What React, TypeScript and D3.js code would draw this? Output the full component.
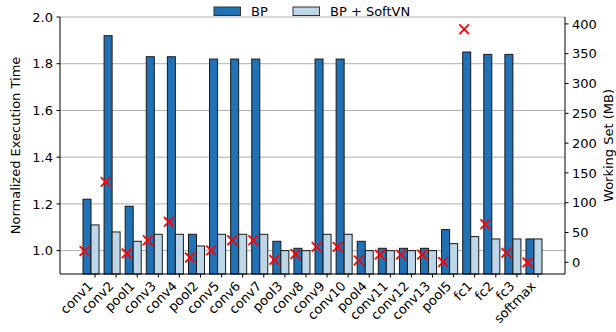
import React from "react";
import * as d3 from "d3";

// Per-layer results for VGG-style network
const layers = [
  "conv1", "conv2", "pool1", "conv3", "conv4", "pool2", "conv5", "conv6",
  "conv7", "pool3", "conv8", "conv9", "conv10", "pool4", "conv11", "conv12",
  "conv13", "pool5", "fc1", "fc2", "fc3", "softmax",
];
const bpTime = [
  1.22, 1.92, 1.19, 1.83, 1.83, 1.07, 1.82, 1.82, 1.82, 1.04, 1.01, 1.82,
  1.82, 1.04, 1.01, 1.01, 1.01, 1.09, 1.85, 1.84, 1.84, 1.05,
];
const softVnTime = [
  1.11, 1.08, 1.04, 1.07, 1.07, 1.02, 1.07, 1.07, 1.07, 1.0, 1.0, 1.07,
  1.07, 1.0, 1.0, 1.0, 1.0, 1.03, 1.06, 1.05, 1.05, 1.05,
];
const workingSetMB = [
  19, 135, 15, 37, 68, 8, 20, 37, 37, 4, 14, 26, 26, 3, 13, 13, 13, 0.5,
  391, 64, 16, 0,
];
const leftTicks = [1.0, 1.2, 1.4, 1.6, 1.8, 2.0];
const rightTicks = [0, 50, 100, 150, 200, 250, 300, 350, 400];

const W = 616;
const H = 332;
const plot = { left: 60, right: 565, top: 17, bottom: 274 };
const barW = 0.38;
const BP_COLOR = "#2171b5";
const SVN_COLOR = "#bdd7e8";
const FONT = "DejaVu Sans, sans-serif";

export default function App() {
  const x = d3.scaleLinear().domain([-1.66, 22.28]).range([plot.left, plot.right]);
  const yL = d3.scaleLinear().domain([0.9, 2.0]).range([plot.bottom, plot.top]);
  const yR = d3.scaleLinear().domain([-19.6, 411.6]).range([plot.bottom, plot.top]);
  const bw = x(barW) - x(0);

  return (
    <svg
      width={W}
      height={H}
      style={{ position: "absolute", left: 0, top: 0, background: "#fff" }}
      fontFamily={FONT}
    >
      {/* horizontal grid */}
      {leftTicks.map((t) => (
        <line
          key={"g" + t}
          x1={plot.left}
          x2={plot.right}
          y1={yL(t)}
          y2={yL(t)}
          stroke="#b0b0b0"
          strokeWidth={1}
        />
      ))}

      {/* bars */}
      {layers.map((name, i) => (
        <g key={name}>
          <rect
            x={x(i) - 1.5 * bw}
            y={yL(bpTime[i])}
            width={bw}
            height={plot.bottom - yL(bpTime[i])}
            fill={BP_COLOR}
            stroke="#1a1a1a"
            strokeWidth={1}
          />
          <rect
            x={x(i) - 0.5 * bw}
            y={yL(softVnTime[i])}
            width={bw}
            height={plot.bottom - yL(softVnTime[i])}
            fill={SVN_COLOR}
            stroke="#1a1a1a"
            strokeWidth={1}
          />
        </g>
      ))}

      {/* working set markers */}
      {workingSetMB.map((v, i) => {
        const cx = x(i - 0.5);
        const cy = yR(v);
        const s = 4.8;
        return (
          <path
            key={"m" + i}
            d={`M${cx - s},${cy - s}L${cx + s},${cy + s}M${cx - s},${cy + s}L${cx + s},${cy - s}`}
            stroke="#ff0000"
            strokeWidth={1.8}
            fill="none"
          />
        );
      })}

      {/* spines */}
      <line x1={plot.left} x2={plot.left} y1={plot.top} y2={plot.bottom} stroke="#000" />
      <line x1={plot.right} x2={plot.right} y1={plot.top} y2={plot.bottom} stroke="#000" />
      <line x1={plot.left} x2={plot.right} y1={plot.bottom} y2={plot.bottom} stroke="#000" />

      {/* left axis */}
      {leftTicks.map((t) => (
        <g key={"l" + t}>
          <line x1={plot.left - 3.5} x2={plot.left} y1={yL(t)} y2={yL(t)} stroke="#000" />
          <text x={plot.left - 7} y={yL(t)} dy="0.36em" textAnchor="end" fontSize={13} fill="#000">
            {t.toFixed(1)}
          </text>
        </g>
      ))}
      <text
        transform={`translate(19.5,${(plot.top + plot.bottom) / 2}) rotate(-90)`}
        textAnchor="middle"
        fontSize={13}
        fill="#000"
      >
        Normalized Execution Time
      </text>

      {/* right axis */}
      {rightTicks.map((t) => (
        <g key={"r" + t}>
          <line x1={plot.right} x2={plot.right + 3.5} y1={yR(t)} y2={yR(t)} stroke="#000" />
          <text x={plot.right + 7} y={yR(t)} dy="0.36em" textAnchor="start" fontSize={13} fill="#000">
            {t}
          </text>
        </g>
      ))}
      <text
        transform={`translate(612.5,${(plot.top + plot.bottom) / 2}) rotate(-90)`}
        textAnchor="middle"
        fontSize={13}
        fill="#000"
      >
        Working Set (MB)
      </text>

      {/* x axis */}
      {layers.map((name, i) => (
        <g key={"x" + name}>
          <line x1={x(i)} x2={x(i)} y1={plot.bottom} y2={plot.bottom + 3.5} stroke="#000" />
          <text
            transform={`translate(${x(i) - 1.5},${plot.bottom + 13}) rotate(-45)`}
            textAnchor="end"
            fontSize={13}
            fill="#000"
          >
            {name}
          </text>
        </g>
      ))}

      {/* legend */}
      <rect x={214} y={7} width={26.5} height={8.5} fill={BP_COLOR} stroke="#333" strokeWidth={1} />
      <text x={251} y={11.5} dy="0.36em" fontSize={13} fill="#000">BP</text>
      <rect x={293} y={7} width={26.5} height={8.5} fill={SVN_COLOR} stroke="#333" strokeWidth={1} />
      <text x={330} y={11.5} dy="0.36em" fontSize={13} fill="#000">BP + SoftVN</text>
    </svg>
  );
}
